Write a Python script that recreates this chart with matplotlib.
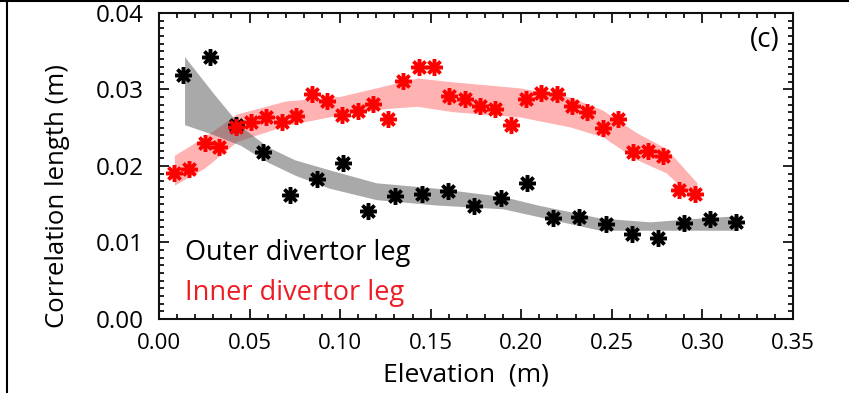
import numpy as np
import matplotlib.pyplot as plt
from matplotlib import font_manager
from matplotlib.ticker import MultipleLocator

names = {f.name for f in font_manager.fontManager.ttflist}
main_font = 'Open Sans' if 'Open Sans' in names else 'DejaVu Sans'
plt.rcParams['font.family'] = [main_font, 'DejaVu Sans']

# outer divertor leg: elevation (m), correlation length (m)
outer_x = [0.0133, 0.0282, 0.0425, 0.0574, 0.0723, 0.0872, 0.1016, 0.1154,
           0.1303, 0.1452, 0.1596, 0.1739, 0.1888, 0.2032, 0.2176, 0.2319,
           0.2468, 0.2612, 0.2755, 0.2899, 0.3043, 0.3186]
outer_y = [0.0319, 0.0342, 0.0254, 0.0218, 0.0162, 0.0183, 0.0204, 0.0141,
           0.0161, 0.0163, 0.0167, 0.0148, 0.0158, 0.0178, 0.0132, 0.0133,
           0.0124, 0.0111, 0.0106, 0.0125, 0.0131, 0.0127]

# inner divertor leg
inner_x = [0.0085, 0.0167, 0.0254, 0.0333, 0.0425, 0.0506, 0.0591, 0.0677,
           0.0756, 0.0843, 0.0929, 0.1012, 0.1097, 0.1183, 0.1266, 0.1349,
           0.1437, 0.1520, 0.1603, 0.1690, 0.1772, 0.1855, 0.1944, 0.2027,
           0.2109, 0.2196, 0.2282, 0.2365, 0.2450, 0.2533, 0.2619, 0.2702,
           0.2785, 0.2871, 0.2960]
inner_y = [0.0191, 0.0196, 0.0230, 0.0225, 0.0251, 0.0257, 0.0264, 0.0257,
           0.0265, 0.0294, 0.0285, 0.0267, 0.0272, 0.0281, 0.0262, 0.0311,
           0.0330, 0.0330, 0.0291, 0.0287, 0.0278, 0.0275, 0.0254, 0.0288,
           0.0295, 0.0294, 0.0278, 0.0271, 0.0249, 0.0261, 0.0218, 0.0219,
           0.0213, 0.0168, 0.0164]

# smoothed trend bands (lower / upper edges)
outer_band_x = [0.0141, 0.030, 0.045, 0.060, 0.075, 0.094, 0.120, 0.153,
                0.190, 0.209, 0.2435, 0.271, 0.2987, 0.3197]
outer_band_lo = [0.0254, 0.0241, 0.0227, 0.0205, 0.0188, 0.0171, 0.0156, 0.0149,
                 0.0144, 0.0134, 0.0116, 0.0116, 0.0116, 0.0116]
outer_band_hi = [0.0343, 0.0295, 0.0252, 0.0225, 0.0208, 0.0195, 0.0178, 0.0171,
                 0.0160, 0.0149, 0.0132, 0.0127, 0.0132, 0.0135]

inner_band_x = [0.0085, 0.025, 0.043, 0.070, 0.100, 0.125, 0.1425, 0.162,
                0.1995, 0.227, 0.245, 0.264, 0.280, 0.297]
inner_band_lo = [0.0175, 0.0197, 0.0232, 0.0253, 0.0267, 0.0275, 0.0278, 0.0271,
                 0.0264, 0.0251, 0.0238, 0.0208, 0.0191, 0.0153]
inner_band_hi = [0.0214, 0.0238, 0.0268, 0.0285, 0.0291, 0.0305, 0.0315, 0.0310,
                 0.0302, 0.0290, 0.0273, 0.0243, 0.0223, 0.0178]

fig = plt.figure(figsize=(8.49, 3.93), dpi=100)
ax = fig.add_axes([0.1873, 0.1883, 0.7467, 0.7787])

ax.fill_between(inner_band_x, inner_band_lo, inner_band_hi, color='red',
                alpha=0.3, lw=0)
ax.fill_between(outer_band_x, outer_band_lo, outer_band_hi, color='#555555',
                alpha=0.5, lw=0)

star = (8, 2, 0)
ax.plot(outer_x, outer_y, ls='none', marker=star, ms=12, mew=2.5, color='black')
ax.plot(inner_x, inner_y, ls='none', marker=star, ms=12, mew=2.5, color='red')

ax.set_xlim(0, 0.35)
ax.set_ylim(0, 0.04)
ax.xaxis.set_major_locator(MultipleLocator(0.05))
ax.xaxis.set_minor_locator(MultipleLocator(0.01))
ax.yaxis.set_major_locator(MultipleLocator(0.01))
ax.yaxis.set_minor_locator(MultipleLocator(0.001))
ax.xaxis.set_major_formatter(plt.FormatStrFormatter('%.2f'))
ax.yaxis.set_major_formatter(plt.FormatStrFormatter('%.2f'))
ax.tick_params(which='both', direction='in', top=True, right=True, width=1.3,
               color='#111111')
ax.tick_params(which='major', length=7)
ax.tick_params(which='minor', length=3.5)
ax.tick_params(axis='y', which='major', labelsize=17.5, pad=11)
ax.tick_params(axis='x', which='major', labelsize=16, pad=10)
for sp in ax.spines.values():
    sp.set_linewidth(1.5)
    sp.set_color('#111111')

ax.text(0.041, 0.216, 'Outer divertor leg', transform=ax.transAxes,
        fontsize=19.5, color='black', ha='left', va='center')
ax.text(0.041, 0.085, 'Inner divertor leg', transform=ax.transAxes,
        fontsize=19.5, color='#ed1c24', ha='left', va='center')
ax.text(0.956, 0.912, '(c)', transform=ax.transAxes, fontsize=20,
        ha='center', va='center')

fig.text(57 / 849, 1 - 196 / 393, 'Correlation length (m)', rotation=90,
         fontsize=18.5, ha='center', va='center')
fig.text(466 / 849, 1 - 375 / 393, 'Elevation  (m)', fontsize=19,
         ha='center', va='center')

# frame lines along the top and left edge
fig.add_artist(plt.Line2D([0, 1], [1 - 1 / 393, 1 - 1 / 393], color='black',
                          lw=1.5, transform=fig.transFigure))
fig.add_artist(plt.Line2D([7 / 849, 7 / 849], [0, 1], color='black', lw=1.5,
                          transform=fig.transFigure))

fig.savefig('out.png', dpi=100)
